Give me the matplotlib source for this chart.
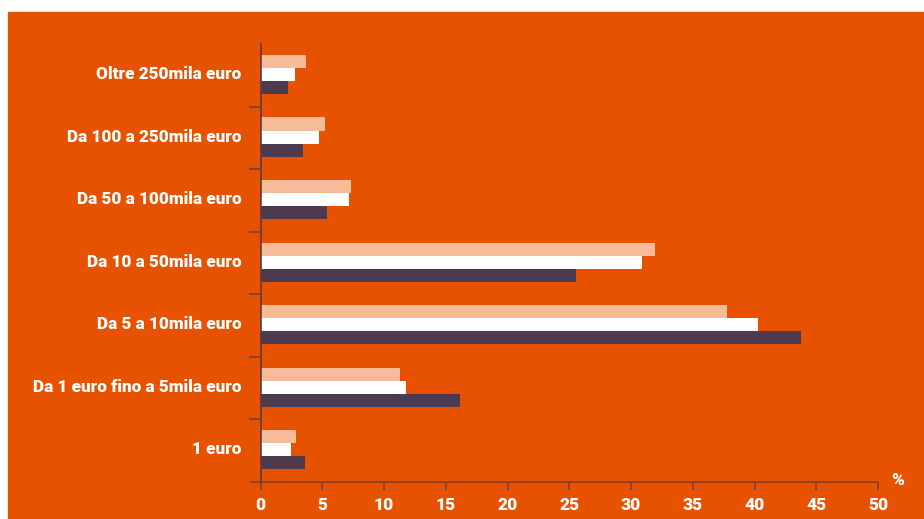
import matplotlib.pyplot as plt
from matplotlib.patches import Rectangle
from matplotlib.ticker import FixedLocator
from matplotlib.transforms import ScaledTranslation
import numpy as np

plt.rcParams['font.family'] = ['Roboto', 'DejaVu Sans']

# fasce di importo, dal basso verso l'alto
fasce = [
    "1 euro",
    "Da 1 euro fino a 5mila euro",
    "Da 5 a 10mila euro",
    "Da 10 a 50mila euro",
    "Da 50 a 100mila euro",
    "Da 100 a 250mila euro",
    "Oltre 250mila euro",
]
serie_a = [2.85, 11.3, 37.75, 31.9, 7.3, 5.2, 3.65]   # barra chiara
serie_b = [2.45, 11.8, 40.25, 30.9, 7.15, 4.7, 2.8]   # barra bianca
serie_c = [3.6, 16.15, 43.8, 25.5, 5.35, 3.4, 2.2]    # barra scura
xticks = [0, 5, 10, 15, 20, 25, 30, 35, 40, 45, 50]

arancio = "#E65200"
col_a = "#F6BB99"
col_b = "#FFFFFF"
col_c = "#4D3A4E"
peso = 900

fig = plt.figure(figsize=(9.24, 5.19), dpi=100)
fig.patch.set_facecolor("white")
fig.patches.append(Rectangle((8 / 924, 0), 1, (519 - 12) / 519,
                             transform=fig.transFigure, color=arancio, zorder=-10))

ax = fig.add_axes([260.7 / 924, (519 - 482) / 519, (878 - 260.7) / 924, (482 - 44.3) / 519])
ax.set_facecolor("none")

y = np.arange(len(fasce))
h = 0.21
yc = y + 0.015
ax.barh(yc + h, serie_a, height=h, color=col_a, zorder=2)
ax.barh(yc, serie_b, height=h, color=col_b, zorder=2)
ax.barh(yc - h, serie_c, height=h, color=col_c, zorder=2)

ax.set_xlim(0, 50)
ax.set_ylim(-0.5, len(fasce) - 0.5)

for s in ["top", "right"]:
    ax.spines[s].set_visible(False)
ax.spines["left"].set_color("#5A3C48")
ax.spines["left"].set_linewidth(1.2)
ax.spines["left"].set_zorder(3)
ax.spines["bottom"].set_color("#7D3F32")
ax.spines["bottom"].set_linewidth(1.2)
ax.spines["bottom"].set_bounds(-0.78, 50)

ax.set_xticks(xticks)
ax.set_xticklabels([str(v) for v in xticks])
ax.tick_params(axis="x", length=6, width=1.2, color="#7D3F32", labelcolor="white",
               labelsize=12.5, pad=5)
for t in ax.get_xticklabels():
    t.set_fontweight(peso)

ax.set_yticks(y)
ax.set_yticklabels(fasce)
ax.yaxis.set_minor_locator(FixedLocator(np.arange(0.5, len(fasce) - 1, 1)))
ax.tick_params(axis="y", which="major", length=0, pad=14, labelcolor="white", labelsize=12.3)
ax.tick_params(axis="y", which="minor", length=9, width=1.2, color="#7D3F32")
su = ScaledTranslation(0, 3 / 100, fig.dpi_scale_trans)
for t in ax.get_yticklabels():
    t.set_fontweight(peso)
    t.set_transform(t.get_transform() + su)

fig.text(898 / 924, 1 - 480 / 519, "%", color="white", fontsize=12.5, fontweight=peso,
         ha="center", va="center")

fig.savefig("out.png", dpi=100, facecolor=fig.get_facecolor())
